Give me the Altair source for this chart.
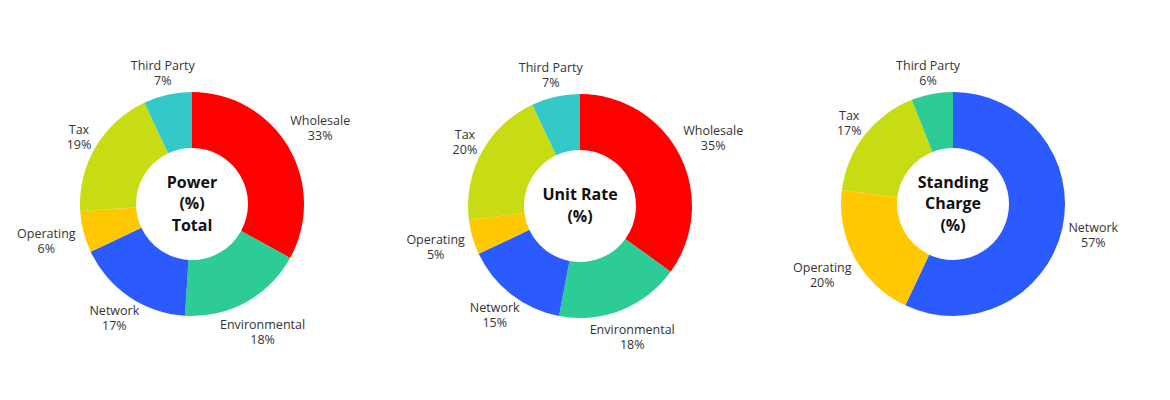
import altair as alt
import pandas as pd

# ---- data ----
titles = [["Power", "(%)", "Total"], ["Unit Rate", "(%)"], ["Standing", "Charge", "(%)"]]

cats1 = ["Wholesale", "Environmental", "Network", "Operating", "Tax", "Third Party"]
vals1 = [33, 18, 17, 6, 19, 7]

cats2 = ["Wholesale", "Environmental", "Network", "Operating", "Tax", "Third Party"]
vals2 = [35, 18, 15, 5, 20, 7]

cats3 = ["Network", "Operating", "Tax", "Third Party"]
vals3 = [57, 20, 17, 6]

# ---- style ----
RED = "#FF0000"
GREEN = "#2DCB95"
BLUE = "#2B5BFF"
YELLOW = "#FFC800"
LIME = "#C8DC14"
TEAL = "#33C9C9"
pal1 = [RED, GREEN, BLUE, YELLOW, LIME, TEAL]
pal2 = [RED, GREEN, BLUE, YELLOW, LIME, TEAL]
pal3 = [BLUE, YELLOW, LIME, GREEN]

FONT = "Open Sans"
OUTER = 112
INNER = 56
LABEL_LH = 15
TITLE_LH = 21.5


def donut(cats, vals, pal, title_lines, w, h):
    df = pd.DataFrame({"idx": list(range(len(cats))), "category": cats, "value": vals})
    base = alt.Chart(df)
    color = alt.Color("category:N", scale=alt.Scale(domain=cats, range=pal), legend=None)

    arc = base.mark_arc(outerRadius=OUTER, innerRadius=INNER).encode(
        theta=alt.Theta("value:Q", stack=True),
        color=color,
        order=alt.Order("idx:Q"),
    )

    labels = (
        base.transform_joinaggregate(total="sum(value)")
        .transform_window(cum="sum(value)", sort=[alt.SortField("idx")], frame=[None, 0])
        .transform_calculate(
            mid="(datum.cum - datum.value/2)/datum.total*2*PI",
            label="datum.category + '\\n' + datum.value + '%'",
            hw="max(length(datum.category), length(datum.value + '%'))*3.4",
            r="119 + abs(sin(datum.mid))*datum.hw + abs(cos(datum.mid))*7",
        )
        .mark_text(lineBreak="\n", fontSize=12.5, font=FONT, color="#333333",
                   lineHeight=LABEL_LH, dy=-LABEL_LH / 2)
        .encode(
            theta=alt.Theta("mid:Q", scale=None),
            radius=alt.Radius("r:Q", scale=None),
            text="label:N",
        )
    )

    n = len(title_lines)
    center = (
        alt.Chart(pd.DataFrame({"t": ["\n".join(title_lines)]}))
        .mark_text(lineBreak="\n", fontSize=16, font=FONT, fontWeight="bold",
                   color="#111111", lineHeight=TITLE_LH, dy=-(n - 1) * TITLE_LH / 2)
        .encode(text="t:N")
    )

    return alt.layer(arc, labels, center).properties(width=w, height=h)


c1 = donut(cats1, vals1, pal1, titles[0], 358, 382)
c2 = donut(cats2, vals2, pal2, titles[1], 418, 386)
c3 = donut(cats3, vals3, pal3, titles[2], 328, 382)

chart = (
    alt.hconcat(c1, c2, c3, spacing=0)
    .resolve_scale(color="independent", theta="independent")
    .configure_view(stroke="transparent")
)

chart.save("out.html", embed_options={"renderer": "svg", "actions": False})
